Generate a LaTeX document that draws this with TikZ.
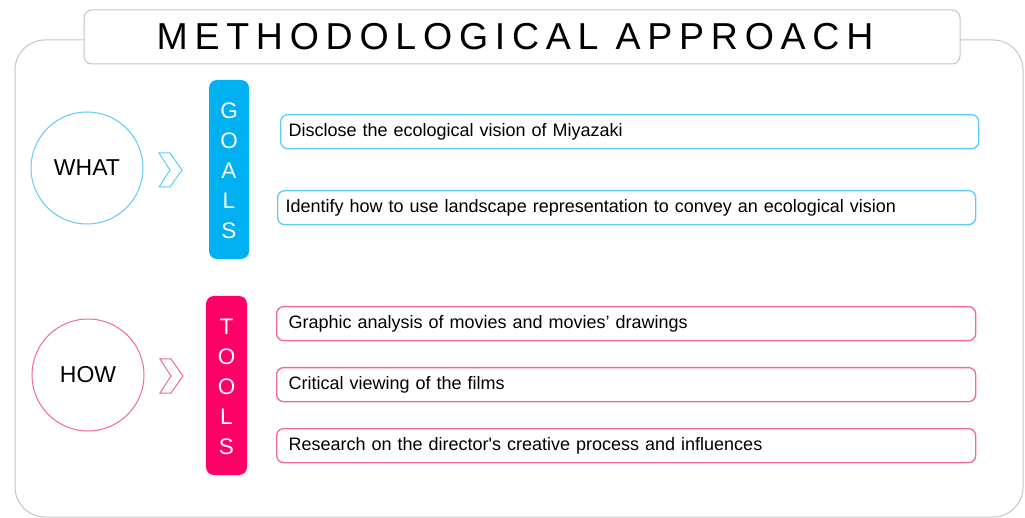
\documentclass[tikz,border=0pt]{standalone}
\usepackage{fontspec}
\setmainfont{Liberation Sans}
\usepackage{tikz}
\usetikzlibrary{calc}
\definecolor{goalblue}{HTML}{00B0F0}
\definecolor{goalline}{HTML}{5CCBF5}
\definecolor{toolpink}{HTML}{FF0066}
\definecolor{toolline}{HTML}{F0679A}
\definecolor{framegray}{HTML}{C4C4C4}
\def\chevron[#1](#2,#3){\draw[#1] (#2,#3) -- ++(11,0) -- ++(12,17) -- ++(-12,17) -- ++(-11,0) -- ++(11,-17) -- cycle;}
\tikzset{
  itembox/.style={draw, rounded corners=7pt, line width=1.3pt, inner xsep=8pt, text width=682pt, align=left, minimum height=34pt, anchor=north west, font=\fontsize{18}{21}\selectfont},
  toolbox/.style={itembox, inner xsep=12pt, text width=675pt},
  askcircle/.style={draw, circle, line width=1pt, minimum size=112pt, font=\fontsize{23}{26}\selectfont},
  barletters/.style={text=white, align=center, font=\fontsize{22.5}{30}\selectfont}
}

\begin{document}
\begin{tikzpicture}[x=1pt, y=-1pt]
			%%%%% START %%%%%
			\useasboundingbox (0, 0) rectangle (1025, 518);
			
			\draw[line width=1pt, color=framegray, rounded corners=30pt] (15, 40) rectangle (1023, 517);
			\draw[line width=1pt, color=framegray, fill=white, rounded corners=8pt] (84, 10) rectangle (960, 64);
			\node[font=\fontsize{37.5}{40}\selectfont\addfontfeatures{LetterSpace=18}] (title) at (515, 37) {METHODOLOGICAL APPROACH};
			
			%% what / goals
			\node[askcircle, color=goalline, text=black] (what) at (87, 168) {WHAT};
			\chevron[line width=1pt, color=goalline](159, 153)
			\draw[fill=goalblue, draw=none, rounded corners=8pt] (209, 80) rectangle (249, 259);
			\node[barletters] (goals) at (229, 171) {G\\O\\A\\L\\S};
			
			\node[itembox, color=goalline, text=black] (goal1) at (280, 114) {Disclose the ecological vision of Miyazaki};
			\node[itembox, color=goalline, text=black] (goal2) at (277, 190) {Identify how to use landscape representation to convey an ecological vision};
			
			%% how / tools
			\node[askcircle, color=toolline, text=black] (how) at (88, 375) {HOW};
			\chevron[line width=1pt, color=toolline](160, 359)
			\draw[fill=toolpink, draw=none, rounded corners=8pt] (206, 296) rectangle (247, 475);
			\node[barletters] (tools) at (226.5, 387) {T\\O\\O\\L\\S};
			
			\node[toolbox, color=toolline, text=black] (tool1) at (276, 306) {Graphic analysis of movies and movies’ drawings};
			\node[toolbox, color=toolline, text=black] (tool2) at (276, 367) {Critical viewing of the films};
			\node[toolbox, color=toolline, text=black] (tool3) at (276, 428) {Research on the director\textquotesingle s creative process and influences};
			
			%%%%% END %%%%%
\end{tikzpicture}
\end{document}
